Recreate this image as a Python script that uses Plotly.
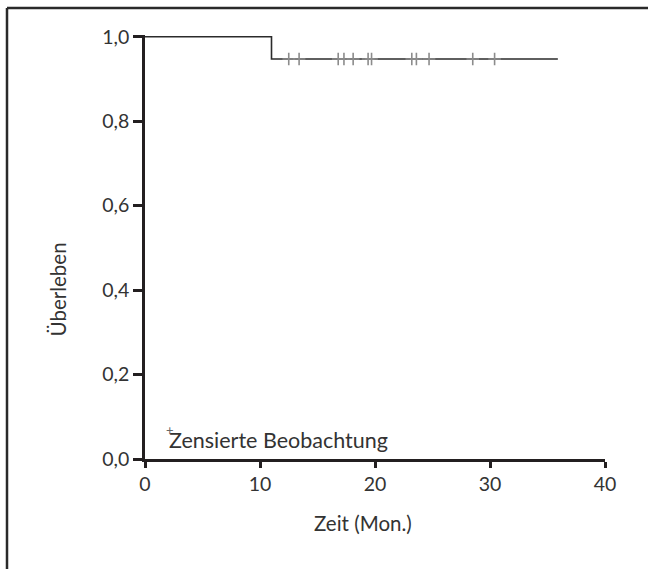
import plotly.graph_objects as go

# Kaplan-Meier step curve
step_time = [0.0, 11.0, 35.9]
step_surv = [1.0, 0.947, 0.947]

# censored observations (months)
cens_time = [12.5, 13.4, 16.8, 17.3, 18.1, 19.4, 19.7, 23.2, 23.6, 24.7, 28.5, 30.4]
cens_surv = [0.947] * len(cens_time)

x_ticks = [0, 10, 20, 30, 40]
y_ticks = [0.0, 0.2, 0.4, 0.6, 0.8, 1.0]
y_ticklabels = ["0,0", "0,2", "0,4", "0,6", "0,8", "1,0"]

FONT = "Lato"
AX = "#231f20"
TXT = "#333333"

fig = go.Figure()
fig.add_trace(go.Scatter(
    x=step_time, y=step_surv, mode="lines",
    line=dict(color="#2b2b2b", width=1.6, shape="hv"),
    showlegend=False, hoverinfo="skip"))
fig.add_trace(go.Scatter(
    x=cens_time, y=cens_surv, mode="markers",
    marker=dict(symbol="cross-thin", size=9, line=dict(color="#8c8c8c", width=1.6)),
    showlegend=False, hoverinfo="skip"))

fig.update_layout(
    width=648, height=569,
    margin=dict(l=145, r=43, t=35, b=110),
    paper_bgcolor="white", plot_bgcolor="white",
    font=dict(family=FONT, color=TXT, size=18),
    xaxis=dict(range=[0, 40], tickvals=x_ticks, showgrid=False, zeroline=False,
               showline=True, linecolor=AX, linewidth=2.5,
               ticks="outside", ticklen=6, tickwidth=2.5, tickcolor=AX,
               tickfont=dict(size=19.5, color=TXT, family=FONT)),
    yaxis=dict(range=[0, 1.004], tickvals=y_ticks, ticktext=y_ticklabels,
               showgrid=False, zeroline=False,
               showline=True, linecolor=AX, linewidth=2.5,
               ticks="outside", ticklen=9, tickwidth=2.5, tickcolor=AX,
               tickfont=dict(size=19.5, color=TXT, family=FONT)),
    annotations=[
        dict(text="Zeit (Mon.)", xref="paper", yref="paper", x=0.474, y=-0.151,
             xanchor="center", yanchor="middle", showarrow=False,
             font=dict(size=20.5, color=TXT, family=FONT)),
        dict(text="Überleben", xref="paper", yref="paper", x=-0.189, y=0.4,
             xanchor="center", yanchor="middle", textangle=-90, showarrow=False,
             font=dict(size=20.5, color=TXT, family=FONT)),
        dict(text="Zensierte Beobachtung", xref="x", yref="y", x=1.9, y=0.045,
             xanchor="left", yanchor="middle", showarrow=False,
             font=dict(size=21.5, color=TXT, family=FONT)),
        dict(text="+", xref="x", yref="y", x=2.15, y=0.069,
             xanchor="center", yanchor="middle", showarrow=False,
             font=dict(size=13, color="#666666", family=FONT)),
    ],
    shapes=[
        dict(type="line", xref="paper", yref="paper", x0=-0.3, x1=1.3, y0=1.0637, y1=1.0637,
             line=dict(color="#2a2a2a", width=2.5)),
        dict(type="line", xref="paper", yref="paper", x0=-0.3, x1=-0.3, y0=1.0637, y1=-0.4,
             line=dict(color="#2a2a2a", width=2.5)),
    ],
)

fig.write_html("out.html",
               config={"displayModeBar": False},
               post_script="document.body.style.margin='0';document.body.style.overflow='hidden';")
